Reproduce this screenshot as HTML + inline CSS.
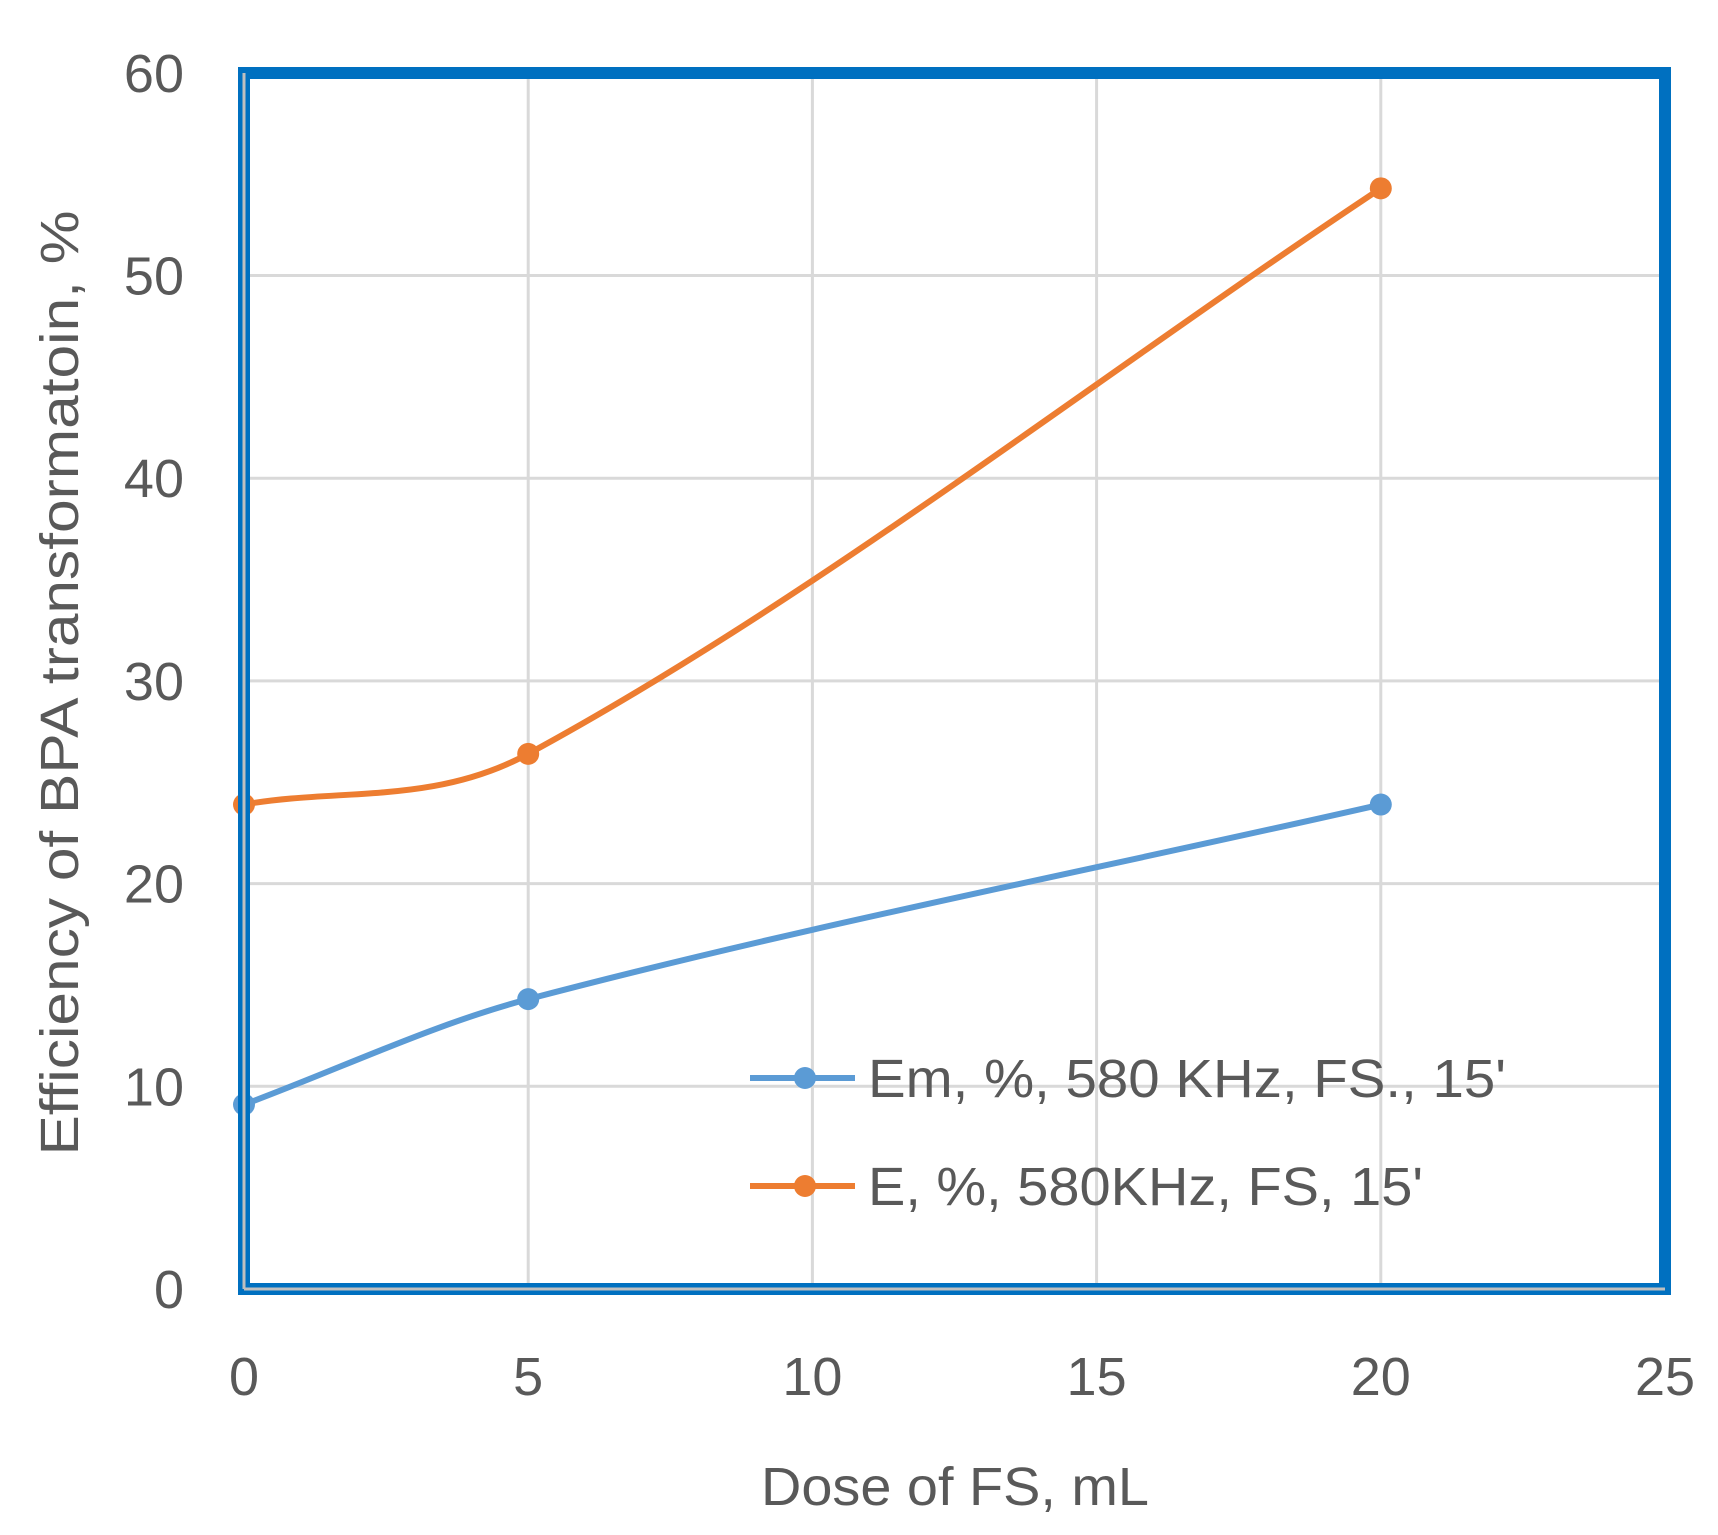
<!DOCTYPE html>
<html><head><meta charset="utf-8"><style>
body{margin:0;background:#fff;}
svg{display:block;font-family:"Liberation Sans",sans-serif;}
</style></head><body>
<svg id="chart" width="1718" height="1535" viewBox="0 0 1718 1535" xmlns="http://www.w3.org/2000/svg">
<g id="grid"></g>
<g id="series"></g>
<rect x="244" y="73" width="1421" height="1216" fill="none" stroke="#0070c0" stroke-width="12"/>
<line x1="244" y1="73" x2="244" y2="1289" stroke="#bfbfbf" stroke-width="3"/>
<line x1="244" y1="1289" x2="1665" y2="1289" stroke="#bfbfbf" stroke-width="3"/>
<g id="ticks" fill="#595959" font-size="54"></g>
<text x="955" y="1505" text-anchor="middle" font-size="54" fill="#595959" textLength="388" lengthAdjust="spacingAndGlyphs">Dose of FS, mL</text>
<text transform="translate(78,683) rotate(-90)" text-anchor="middle" font-size="54" fill="#595959" textLength="945" lengthAdjust="spacingAndGlyphs">Efficiency of BPA transformatoin, %</text>
<g font-size="54" fill="#595959">
<g>
<line x1="750" y1="1078" x2="855" y2="1078" stroke="#5b9bd5" stroke-width="6"/>
<circle cx="805" cy="1078" r="11" fill="#5b9bd5"/>
<text x="868" y="1097" textLength="638" lengthAdjust="spacingAndGlyphs">Em, %, 580 KHz, FS., 15'</text></g>
<g>
<line x1="750" y1="1186" x2="855" y2="1186" stroke="#ed7d31" stroke-width="6"/>
<circle cx="805" cy="1186" r="11" fill="#ed7d31"/>
<text x="868" y="1205" textLength="555" lengthAdjust="spacingAndGlyphs">E, %, 580KHz, FS, 15'</text></g>
</g>
</svg>
<script>
const xValues=[0,5,20];
const emValues=[9.1,14.3,23.9];
const eValues=[23.9,26.4,54.3];
const xTicks=[0,5,10,15,20,25];
const yTicks=[0,10,20,30,40,50,60];
const NS="http://www.w3.org/2000/svg";
const X=v=>244+v*56.84;
const Y=v=>1289-v*20.27;
const grid=document.getElementById('grid'),ticks=document.getElementById('ticks'),ser=document.getElementById('series');
function mk(t,a,p){const e=document.createElementNS(NS,t);for(const k in a)e.setAttribute(k,a[k]);p.appendChild(e);return e;}
xTicks.forEach(v=>{
 const l=mk('line',{x1:X(v),x2:X(v),y1:73,y2:1289,stroke:'#d9d9d9','stroke-width':3},grid);
 
 
 const t=mk('text',{x:X(v),y:1395,'text-anchor':'middle'},ticks);t.textContent=v;
 
 
});
yTicks.forEach(v=>{
 const l=mk('line',{x1:244,x2:1665,y1:Y(v),y2:Y(v),stroke:'#d9d9d9','stroke-width':3},grid);
 
 
 const t=mk('text',{x:184,y:Y(v)+19,'text-anchor':'end'},ticks);t.textContent=v;
 
 
});
function smooth(xs,ys){
 const n=xs.length,m=[];
 for(let i=0;i<n;i++){
  if(i===0)m.push((ys[1]-ys[0])/(xs[1]-xs[0]));
  else if(i===n-1)m.push((ys[n-1]-ys[n-2])/(xs[n-1]-xs[n-2]));
  else m.push((ys[i+1]-ys[i-1])/(xs[i+1]-xs[i-1]));
 }
 let d='M'+X(xs[0])+','+Y(ys[0]);
 for(let i=0;i<n-1;i++){
  const h=(xs[i+1]-xs[i])/3;
  d+=' C'+X(xs[i]+h)+','+Y(ys[i]+m[i]*h)+' '+X(xs[i+1]-h)+','+Y(ys[i+1]-m[i+1]*h)+' '+X(xs[i+1])+','+Y(ys[i+1]);
 }
 return d;
}
function draw(vals,color,name){
 const p=mk('path',{d:smooth(xValues,vals),fill:'none',stroke:color,'stroke-width':6,'stroke-linecap':'round'},ser);
 
 
 xValues.forEach((x,i)=>{const c=mk('circle',{cx:X(x),cy:Y(vals[i]),r:11,fill:color},ser);
  
  });
}
draw(emValues,'#5b9bd5','em-series');
draw(eValues,'#ed7d31','e-series');
</script>
</body></html>
